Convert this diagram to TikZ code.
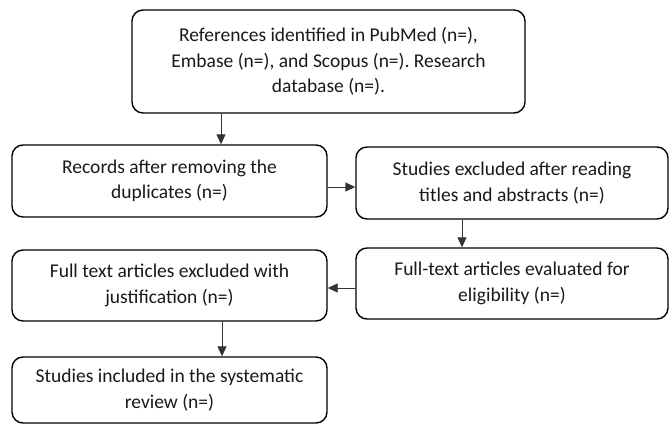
\documentclass[tikz,border=0pt]{standalone}
\usepackage{fontspec}
\setmainfont{Carlito}
\usetikzlibrary{arrows.meta}
\frenchspacing
\begin{document}
\begin{tikzpicture}[x=1pt,y=1pt,
  box/.style={draw=black,line width=1.4pt,rounded corners=11pt,align=center,
    inner sep=0pt,font=\fontsize{19.5}{25.5}\selectfont,text=black!90},
  arr/.style={line width=0.9pt,draw=black!80,-{Triangle[length=10pt,width=9pt]}}]
\useasboundingbox (0,0) rectangle (669,424);
\node[box,minimum width=393pt,minimum height=103pt] (top) at (328.5,362.5)
  {References identified in PubMed (n=),\\Embase (n=), and Scopus (n=). Research\\database (n=).};
\node[box,minimum width=315pt,minimum height=72pt] (rec) at (169.5,243)
  {Records after removing the\\duplicates (n=)};
\node[box,minimum width=312pt,minimum height=72pt] (exa) at (512,241)
  {Studies excluded after reading\\titles and abstracts (n=)};
\node[box,minimum width=312pt,minimum height=71pt] (evl) at (512,140.5)
  {Full-text articles evaluated for\\eligibility (n=)};
\node[box,minimum width=315pt,minimum height=71pt] (exb) at (169.5,138.5)
  {Full text articles excluded with\\justification (n=)};
\node[box,minimum width=315pt,minimum height=66pt] (inc) at (169.5,34)
  {Studies included in the systematic\\review (n=)};
\coordinate (c1) at (221,0);
\coordinate (c2) at (0,237);
\coordinate (c3) at (462,0);
\coordinate (c4) at (0,136);
\coordinate (c5) at (222,0);
\draw[arr] (top.south -| c1) -- (rec.north -| c1);
\draw[arr] (rec.east |- c2) -- (exa.west |- c2);
\draw[arr] (exa.south -| c3) -- (evl.north -| c3);
\draw[arr] (evl.west |- c4) -- (exb.east |- c4);
\draw[arr] (exb.south -| c5) -- (inc.north -| c5);
\end{tikzpicture}
\end{document}
